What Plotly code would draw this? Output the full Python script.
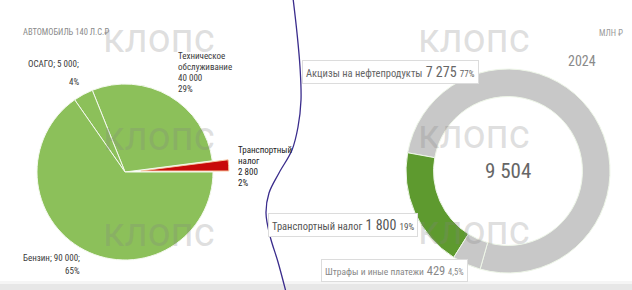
import plotly.graph_objects as go

# ---------------- data ----------------
car_title = "АВТОМОБИЛЬ 140 Л.С.₽"
car_labels = ["Транспортный налог", "Техническое обслуживание", "ОСАГО", "Бензин"]
car_values = [2800, 40000, 5000, 90000]

budget_unit = "МЛН ₽"
budget_year = "2024"
budget_labels = ["Акцизы на нефтепродукты", "Транспортный налог", "Штрафы и иные платежи"]
budget_values = [7275, 1800, 429]
budget_pct = ["77%", "19%", "4,5%"]
budget_total = 9504

watermark = "клопс"

W, H = 632, 290
NARROW = "Roboto Condensed, Liberation Sans Narrow, DejaVu Sans Condensed, Arial Narrow, Roboto"


def fmt(v):
    return f"{v:,}".replace(",", " ")


def px(x):
    return x / W


def py(y):
    return 1 - y / H


car_total = sum(car_values)
car_pct = [f"{round(v / car_total * 100)}%" for v in car_values]

fig = go.Figure()

# hidden pixel axes for decorations
fig.update_layout(
    xaxis=dict(range=[0, W], visible=False, domain=[0, 1], fixedrange=True),
    yaxis=dict(range=[H, 0], visible=False, domain=[0, 1], fixedrange=True),
)

# divider curve
div_x = [293, 297, 300, 301, 298, 292, 279, 269, 266, 270, 278, 286]
div_y = [-2, 33, 67, 100, 127, 150, 173, 193, 213, 236, 262, 292]
fig.add_trace(go.Scatter(x=div_x, y=div_y, mode="lines",
                         line=dict(color="#3A2C8C", width=1.3, shape="spline"),
                         hoverinfo="skip", showlegend=False))

# left pie: first slice (transport tax) sits just above 3 o'clock
r_l, pull = 88, 0.18
cx_l, cy_l = 125, 172
half = r_l * (1 + pull)
rot_l = 90 - 360 * car_values[0] / car_total
fig.add_trace(go.Pie(
    labels=car_labels, values=car_values, sort=False, direction="counterclockwise",
    rotation=rot_l, pull=[pull, 0, 0, 0], textinfo="none", hoverinfo="label+value",
    marker=dict(colors=["#C80A0A", "#8CC05A", "#8CC05A", "#8CC05A"],
                line=dict(color=["#F6C49C", "#F4F9EE", "#F4F9EE", "#F4F9EE"], width=1)),
    domain=dict(x=[px(cx_l - half), px(cx_l + half)], y=[py(cy_l + half), py(cy_l - half)]),
    showlegend=False,
))

# right donut
r_r = 102
cx_r, cy_r = 508, 171
fig.add_trace(go.Pie(
    labels=budget_labels, values=budget_values, sort=False, direction="counterclockwise",
    rotation=-79.7, hole=0.73, textinfo="none", hoverinfo="label+value",
    marker=dict(colors=["#C8C8C8", "#5E9A2F", "#C8C8C8"],
                line=dict(color="#EEF6E8", width=1)),
    domain=dict(x=[px(cx_r - r_r), px(cx_r + r_r)], y=[py(cy_r + r_r), py(cy_r - r_r)]),
    showlegend=False,
))

ann = []


def add(text, x, y, size=8, color="#3A3A3A", xanchor="left", yanchor="middle",
        family=NARROW, **kw):
    ann.append(dict(text=text, x=px(x), y=py(y), xref="paper", yref="paper",
                    xanchor=xanchor, yanchor=yanchor, showarrow=False,
                    font=dict(size=size, color=color, family=family), **kw))


# watermarks
for (wx, wy) in [(159, 38), (159, 136), (159, 232), (474, 39), (474, 135), (474, 230)]:
    add(watermark, wx, wy, size=40, color="rgba(130,130,130,0.25)", xanchor="center",
        family="Roboto")

# left texts
add(car_title, 21, 32, size=8.5, color="#8A8A8A")
to_words = car_labels[1].split(" ")
add(to_words[0], 176, 56, size=9)
add(to_words[1], 176, 67, size=9)
add(fmt(car_values[1]), 176, 78, size=9)
add(car_pct[1], 176, 89, size=9)

add(f"{car_labels[2]}; {fmt(car_values[2])};", 81, 64, size=9, xanchor="right")
add(car_pct[2], 81, 82, size=9, xanchor="right")

add(f"{car_labels[3]}; {fmt(car_values[3])};", 82, 258, size=9, xanchor="right")
add(car_pct[3], 82, 271, size=9, xanchor="right")

tr_words = car_labels[0].split(" ")
add(tr_words[0], 236, 150, size=9, color="#222")
add(tr_words[1], 236, 161, size=9, color="#222")
add(fmt(car_values[0]), 236, 172, size=9, color="#222")
add(car_pct[0], 236, 183, size=9, color="#222")

# right texts
add(budget_unit, 625, 33, size=8.5, color="#9A9A9A", xanchor="right")
add(budget_year, 598, 61, size=14, color="#8A8A8A", xanchor="right")
add(fmt(budget_total), cx_r, cy_r, size=21, color="#666", xanchor="center")


def box_text(i, name_size, num_size, pct_size):
    return (f"<span style='font-size:{name_size}px'>{budget_labels[i]}</span>"
            f"<span style='font-size:{num_size}px'> {fmt(budget_values[i])} </span>"
            f"<span style='font-size:{pct_size}px'>{budget_pct[i]}</span>")


box = dict(bgcolor="white", bordercolor="#DCDCDC", borderwidth=1, borderpad=3)
add(box_text(0, 10.5, 14, 9), 302, 71.5, size=10.5, color="#666", **box)
add(box_text(1, 10.5, 14, 9), 268, 225, size=10.5, color="#555", **box)
add(box_text(2, 9.5, 12.5, 8.5), 321, 270, size=9.5, color="#888", **box)

# bottom shadow strip (soft gradient imitation)
shapes = [
    dict(type="rect", xref="paper", yref="paper", x0=0, x1=1, y0=py(284), y1=py(281),
         fillcolor="rgba(225,225,225,0.35)", line=dict(width=0), layer="below"),
    dict(type="rect", xref="paper", yref="paper", x0=0, x1=1, y0=0, y1=py(284),
         fillcolor="rgba(215,215,215,0.6)", line=dict(width=0), layer="below"),
]

fig.update_layout(
    width=W, height=H, margin=dict(l=0, r=0, t=0, b=0),
    paper_bgcolor="white", plot_bgcolor="rgba(0,0,0,0)",
    font=dict(family="Roboto, Noto Sans, sans-serif"),
    annotations=ann, shapes=shapes, showlegend=False,
)

fig.write_html("out.html", config=dict(displayModeBar=False))
